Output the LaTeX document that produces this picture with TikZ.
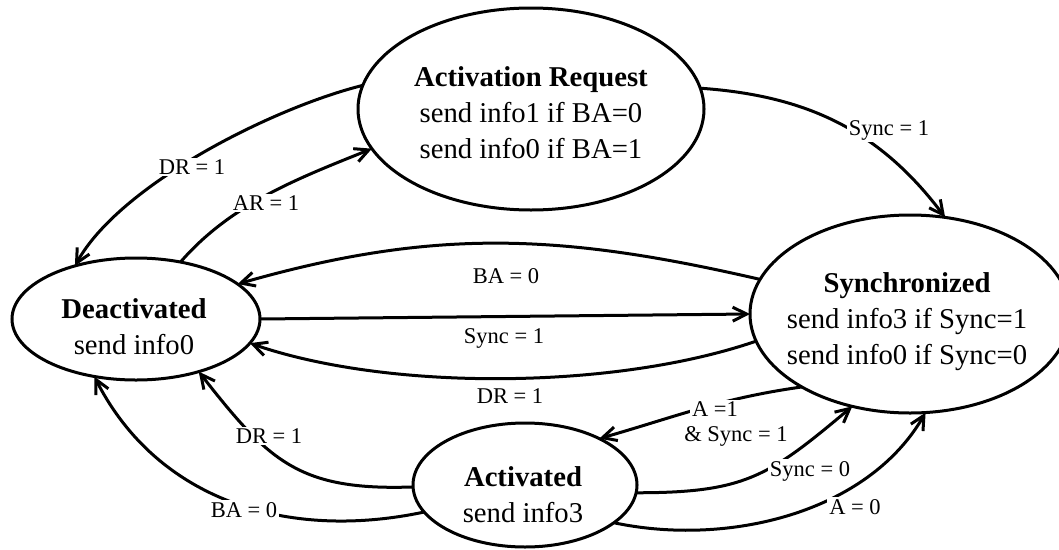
\documentclass[tikz,border=0pt]{standalone}
\usepackage{fontspec}
\setmainfont{Liberation Serif}
\usetikzlibrary{arrows.meta,shapes.geometric}
\begin{document}
\begin{tikzpicture}[x=1pt,y=-1pt,
  statebox/.style={ellipse,draw,line width=3pt,inner sep=0pt,outer sep=0pt},
  statetext/.style={align=center,inner sep=0pt,font=\fontsize{28.7}{36}\selectfont},
  conn/.style={line width=3pt,-{Straight Barb[length=14pt,width=14pt]}},
  lbl/.style={fill=white,inner sep=2pt,font=\fontsize{22.5}{27}\selectfont}]
\useasboundingbox (0,0) rectangle (1059,549);

% states
\node[statebox,minimum width=346pt,minimum height=202pt] (req) at (531,109) {};
\node[statebox,minimum width=248pt,minimum height=122pt] (deact) at (136,319) {};
\node[statebox,minimum width=320pt,minimum height=198pt] (sync) at (910,314) {};
\node[statebox,minimum width=224pt,minimum height=124pt] (act) at (525,485) {};

\node[statetext] (req-t) at (531,113) {\textbf{Activation Request}\\send info1 if BA=0\\send info0 if BA=1};
\node[statetext] (deact-t) at (134,327) {\textbf{Deactivated}\\send info0};
\node[statetext] (sync-t) at (907,322) {\textbf{Synchronized}\\send info3 if Sync=1\\send info0 if Sync=0};
\node[statetext] (act-t) at (523,495) {\textbf{Activated}\\send info3};

% transitions
\draw[conn] (req.172) to[out=194,in=61,looseness=0.7] (deact.139);
\draw[conn] (deact.52) to[out=49,in=202,looseness=0.9] (req.194);
\draw[conn] (req.7) to[out=-4,in=127] (sync.70);
\draw[conn] (sync.167) to[out=167,in=16] (deact.19);
\draw[conn] (deact.0) -- (sync.180);
\draw[conn] (sync.190) to[out=199,in=341,looseness=0.75] (deact.348);
\draw[conn] (sync.214) to[out=188,in=16] (act.32);
\draw[conn] (act.-4) to[out=0,in=220,looseness=1.2] (sync.238);
\draw[conn] (act.-23) to[out=-12,in=240,looseness=0.9] (sync.279);
\draw[conn] (act.181.5) to[out=182,in=308,looseness=1.2] (deact.-40);
\draw[conn] (act.195) to[out=192,in=297] (deact.234);

% transition conditions
\node[lbl] (c-dr-top) at (192,167) {DR = 1};
\node[lbl] (c-ar) at (266,203) {AR = 1};
\node[lbl] (c-sync-top) at (889,130) {Sync = 1};
\node[lbl] (c-ba-top) at (506,276) {BA = 0};
\node[lbl] (c-sync-mid) at (504,338) {Sync = 1};
\node[lbl] (c-dr-low) at (510,396) {DR = 1};
\node[lbl] (c-a1) at (715,409) {A =1};
\node[lbl] (c-a1-sync) at (736,436) {\& Sync = 1};
\node[lbl] (c-sync0) at (810,471) {Sync = 0};
\node[lbl] (c-a0) at (855,507) {A = 0};
\node[lbl] (c-dr-mid) at (269,436) {DR = 1};
\node[lbl] (c-ba-out) at (244,510) {BA = 0};
\end{tikzpicture}
\end{document}
